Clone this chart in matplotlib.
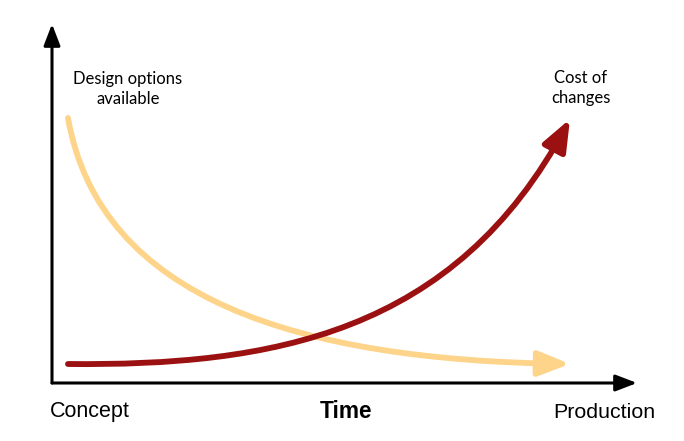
import matplotlib.pyplot as plt
from matplotlib.patches import FancyArrowPatch
from matplotlib.path import Path

# cubic Bezier control points for each curve
# (pixel coords, y grows downward): start, ctrl 1, ctrl 2, arrow tip
options_x = [68, 100, 300, 570]
options_y = [118, 300, 360, 364]

cost_x = [68, 270, 455, 570]
cost_y = [364, 366, 335, 119]

# axes (origin, ends)
origin = (52, 383)
x_end = (637, 383)
y_end = (52, 24)

fig = plt.figure(figsize=(6.84, 4.41), dpi=100)
ax = fig.add_axes([0, 0, 1, 1])
ax.set_xlim(0, 684)
ax.set_ylim(441, 0)
ax.axis('off')

# axis arrows
for end in (x_end, y_end):
    ax.add_patch(FancyArrowPatch(origin, end, arrowstyle='-|>,head_length=13,head_width=5',
                                 mutation_scale=1, color='black', lw=2.2,
                                 shrinkA=0, shrinkB=0))

bez = [Path.MOVETO, Path.CURVE4, Path.CURVE4, Path.CURVE4]
for xs, ys, col in ((options_x, options_y, '#fdd48a'), (cost_x, cost_y, '#9b1111')):
    ax.add_patch(FancyArrowPatch(path=Path(list(zip(xs, ys)), bez),
                                 arrowstyle='-|>,head_length=19,head_width=7.5',
                                 mutation_scale=1, color=col, lw=4.2,
                                 joinstyle='round', capstyle='round'))

label_font = dict(family='Lato', fontsize=12, color='black', ha='center', va='center',
                  linespacing=1.3)
ax.text(128, 89, 'Design options\navailable', **label_font)
ax.text(581, 88, 'Cost of\nchanges', **label_font)

ax.text(50, 411, 'Concept', family='Liberation Sans', fontsize=15.5, ha='left', va='center')
ax.text(346, 412, 'Time', family='Liberation Sans', fontsize=16.3, fontweight='bold',
        ha='center', va='center')
ax.text(655, 413, 'Production', family='Liberation Sans', fontsize=15.4, ha='right', va='center')

fig.savefig('out.png', dpi=100)
